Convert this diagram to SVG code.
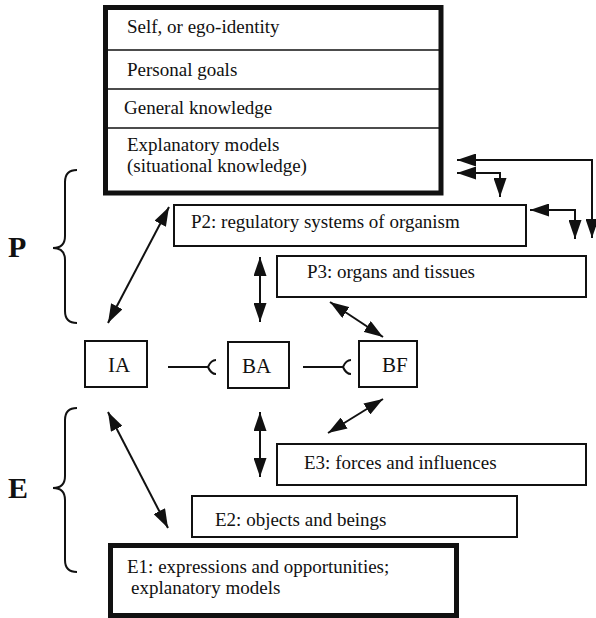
<svg xmlns="http://www.w3.org/2000/svg" width="596" height="618" viewBox="0 0 596 618">
  <style>
    .txt { font-family: "Liberation Serif", Tinos, "Times New Roman", Times, "DejaVu Serif", serif; font-size: 19px; fill: #111; }
    .lbl { font-family: "Liberation Serif", Tinos, "Times New Roman", Times, "DejaVu Serif", serif; font-size: 21px; fill: #111; }
    .big { font-family: "Liberation Serif", Tinos, "Times New Roman", Times, "DejaVu Serif", serif; font-size: 30px; font-weight: bold; fill: #111; }
    .box { fill: #fff; stroke: #111; stroke-width: 2; }
    .thick { fill: #fff; stroke: #111; stroke-width: 5; }
    .div { stroke: #111; stroke-width: 1.5; fill: none; }
    .arr { stroke: #111; stroke-width: 2; fill: none; marker-start: url(#head); marker-end: url(#head); }
    .ln { stroke: #111; stroke-width: 2; fill: none; }
    .brace { stroke: #111; stroke-width: 2; fill: none; }
  </style>
  <defs>
    <marker id="head" viewBox="0 0 19 13" refX="19" refY="6.5" markerWidth="19" markerHeight="13" markerUnits="userSpaceOnUse" orient="auto-start-reverse">
      <path d="M0,0 L19,6.5 L0,13 z" fill="#111"/>
    </marker>
  </defs>

  <!-- Person layer stack -->
  <g id="self-stack">
    <rect class="thick" x="105.5" y="7.5" width="335.5" height="185.5"/>
    <line class="div" x1="105" y1="50" x2="441" y2="50"/>
    <line class="div" x1="105" y1="89" x2="441" y2="89"/>
    <line class="div" x1="105" y1="128" x2="441" y2="128"/>
    <text class="txt" x="127" y="33">Self, or ego-identity</text>
    <text class="txt" x="127" y="76">Personal goals</text>
    <text class="txt" x="124" y="114">General knowledge</text>
    <text class="txt" x="127" y="151">Explanatory models</text>
    <text class="txt" x="127" y="172">(situational knowledge)</text>
  </g>

  <g id="p2">
    <rect class="box" x="174" y="205" width="352" height="41"/>
    <text class="txt" x="191" y="228">P2: regulatory systems of organism</text>
  </g>
  <g id="p3">
    <rect class="box" x="277" y="256" width="309" height="41"/>
    <text class="txt" x="307" y="278">P3: organs and tissues</text>
  </g>

  <g id="ia">
    <rect class="box" x="85" y="341" width="62" height="46"/>
    <text class="lbl" x="108" y="372">IA</text>
  </g>
  <g id="ba">
    <rect class="box" x="228" y="342" width="61" height="46"/>
    <text class="lbl" x="242" y="373">BA</text>
  </g>
  <g id="bf">
    <rect class="box" x="359" y="341" width="58" height="46"/>
    <text class="lbl" x="382" y="372">BF</text>
  </g>

  <g id="e3">
    <rect class="box" x="277" y="444" width="309" height="41"/>
    <text class="txt" x="304" y="469">E3: forces and influences</text>
  </g>
  <g id="e2">
    <rect class="box" x="192" y="496" width="325" height="41"/>
    <text class="txt" x="215" y="526">E2: objects and beings</text>
  </g>
  <g id="e1">
    <rect class="thick" x="110.5" y="545.5" width="346" height="70"/>
    <text class="txt" x="127" y="573">E1: expressions and opportunities;</text>
    <text class="txt" x="131" y="594">explanatory models</text>
  </g>

  <!-- Side braces -->
  <g id="brace-p">
    <path class="brace" d="M77,170 Q65,170 65,182 L65,236 Q65,248 53,248 Q65,248 65,260 L65,311 Q65,323 77,323"/>
    <text class="big" x="8" y="257">P</text>
  </g>
  <g id="brace-e">
    <path class="brace" d="M77,408 Q65,408 65,420 L65,476 Q65,488 53,488 Q65,488 65,500 L65,560 Q65,572 77,572"/>
    <text class="big" x="8" y="498">E</text>
  </g>

  <!-- Connectors -->
  <g id="connectors">
    <line class="arr" x1="108" y1="323" x2="169" y2="207"/>
    <line class="arr" x1="108" y1="412" x2="168" y2="528"/>
    <line class="arr" x1="260" y1="257" x2="260" y2="322"/>
    <line class="arr" x1="260" y1="412" x2="260" y2="477"/>
    <line class="arr" x1="330" y1="302" x2="383" y2="337"/>
    <line class="arr" x1="328" y1="433" x2="383" y2="399"/>
    <path class="arr" d="M457,160 L592,160 L592,238"/>
    <path class="arr" d="M457,173 L500,173 L500,197"/>
    <path class="arr" d="M530,210 L575,210 L575,239"/>
    <!-- forked ends between IA, BA and BF -->
    <path class="ln" d="M168,367 L208,367 Q211,360 216,360 M208,367 Q211,374 216,374"/>
    <path class="ln" d="M303,367 L343,367 Q346,360 351,360 M343,367 Q346,374 351,374"/>
  </g>
</svg>
